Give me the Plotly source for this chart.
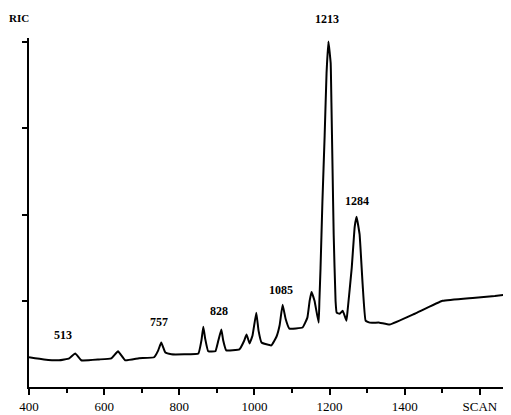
import plotly.graph_objects as go

# Scan number (x) and relative ion current (y)
scan = [400, 440, 480, 507, 523, 539, 587, 619, 637, 656, 693, 733, 744, 752, 763, 779,
        813, 851, 859, 864, 869, 877, 896, 904, 912, 917, 925, 960, 973, 979, 987, 995,
        1005, 1011, 1019, 1045, 1059, 1067, 1075, 1083, 1093, 1128, 1141, 1147, 1152, 1160,
        1171, 1173, 1176, 1181, 1187, 1192, 1197, 1203, 1205, 1208, 1211, 1216, 1219, 1227,
        1235, 1245, 1248, 1259, 1267, 1272, 1280, 1288, 1296, 1307, 1333, 1360, 1427, 1501,
        1581, 1640, 1683]
ric = [0.345, 0.32, 0.31, 0.333, 0.39, 0.31, 0.32, 0.333, 0.414, 0.31, 0.333, 0.345, 0.425, 0.517, 0.40, 0.38,
       0.38, 0.39, 0.54, 0.70, 0.56, 0.414, 0.414, 0.54, 0.667, 0.54, 0.425, 0.437, 0.54, 0.61, 0.506, 0.598,
       0.862, 0.655, 0.517, 0.483, 0.586, 0.713, 0.954, 0.793, 0.678, 0.69, 0.805, 1.0, 1.103, 1.0,
       0.747, 1.0, 1.379, 2.149, 2.92, 3.64, 4.01, 3.76, 3.30, 2.53, 1.77, 1.0, 0.862, 0.85,
       0.885, 0.77, 0.885, 1.379, 1.862, 1.977, 1.77, 1.195, 0.77, 0.747, 0.747, 0.724, 0.85, 1.0,
       1.034, 1.057, 1.08]

# Peak labels: text, position along scan axis, label height (RIC units)
peak_text = ["513", "757", "828", "1085", "1213", "1284"]
peak_x = [490, 747, 907, 1070, 1194, 1272]
peak_y = [0.60, 0.75, 0.88, 1.13, 4.27, 2.16]

x_tickvals = [400, 600, 800, 1000, 1200, 1400, 1600]
x_ticktext = ["400", "600", "800", "1000", "1200", "1400", "SCAN"]
y_tickvals = [1, 2, 3, 4]
y_max = 4.05

font = "Liberation Serif"

fig = go.Figure()
fig.add_trace(go.Scatter(x=scan, y=ric, mode="lines", line_shape="spline",
                         line=dict(color="black", width=2, smoothing=0.3), hoverinfo="skip"))

for t, x, y in zip(peak_text, peak_x, peak_y):
    fig.add_annotation(x=x, y=y / y_max, xref="x", yref="paper", text="<b>" + t + "</b>",
                       showarrow=False, xanchor="center", yanchor="middle",
                       font=dict(family=font, size=12, color="black"))

fig.add_annotation(x=-0.02, y=1.058, xref="paper", yref="paper", text="<b>RIC</b>",
                   showarrow=False, xanchor="center", yanchor="middle",
                   font=dict(family=font, size=11, color="black"))

fig.update_layout(
    width=503, height=407,
    margin=dict(l=21, r=0, t=30, b=28, autoexpand=False),
    paper_bgcolor="white", plot_bgcolor="white",
    showlegend=False,
    xaxis=dict(range=[400, 1683], tickvals=x_tickvals, ticktext=x_ticktext,
               ticks="outside", ticklen=6, tickwidth=1.5, tickcolor="black",
               minor=dict(dtick=100, tick0=400, ticks="outside", ticklen=4,
                          tickwidth=1.5, tickcolor="black"),
               showline=True, linecolor="black", linewidth=2, showgrid=False,
               zeroline=False, automargin=False,
               tickfont=dict(family=font, size=13, color="black")),
    yaxis=dict(range=[0, y_max], tickvals=y_tickvals, ticktext=["", "", "", ""],
               ticks="outside", ticklen=5, tickwidth=1.5, tickcolor="black",
               showline=True, linecolor="black", linewidth=2, showgrid=False,
               zeroline=False, automargin=False),
)

fig.write_html("out.html")
